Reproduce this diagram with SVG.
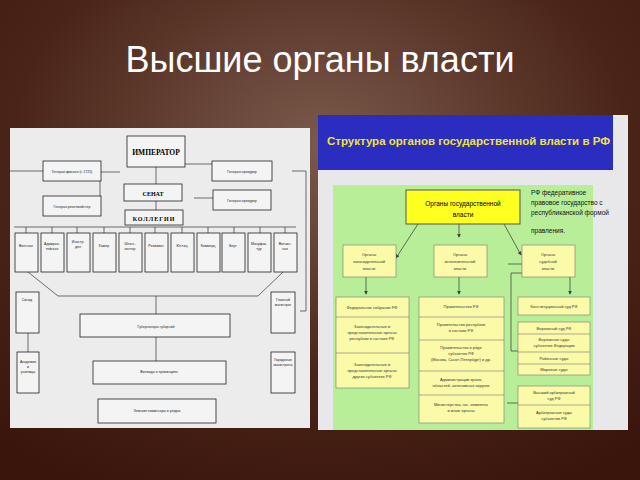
<svg xmlns="http://www.w3.org/2000/svg" width="640" height="480" viewBox="0 0 640 480">
<defs>
<radialGradient id="bg" cx="0.5" cy="0.3" r="0.8"><stop offset="0" stop-color="#7a5a4c"/><stop offset="0.6" stop-color="#4a2418"/><stop offset="1" stop-color="#3a150c"/></radialGradient>
<marker id="ah" markerWidth="6" markerHeight="6" refX="5" refY="3" orient="auto"><path d="M0,0L6,3L0,6z" fill="#444"/></marker>
<style>
.b{fill:#f4f4f4;stroke:#222;stroke-width:0.8}
.t{font-family:"Liberation Sans Narrow","Liberation Sans",sans-serif;font-size:3.5px;fill:#222;text-anchor:middle}
.y{fill:#fafaa8;stroke:#777;stroke-width:0.6}
.s{font-family:"Liberation Sans",sans-serif;font-size:4px;fill:#333;text-anchor:middle}
.l{stroke:#333;stroke-width:0.7;fill:none}
</style>
</defs>
<rect width="640" height="480" fill="url(#bg)"/>
<text x="320" y="72" font-family="Liberation Sans,sans-serif" font-size="36" fill="#fff" text-anchor="middle">Высшие органы власти</text>
<g id="left">
<rect x="10" y="128" width="300" height="300" fill="#ececec"/>
<g class="l">
<path d="M156,167V184M156,199V210M185,164H215M72,164H44M100,172H120M100,180V208M10,171H44M292,171H306V311H300M194,198H213M14,227H296M26,227V233M52,227V233M77,227V233M104,227V233M130,227V233M155,227V233M182,227V233M208,227V233M234,227V233M260,227V233M285,227V233M28,272L58,296H258L283,272M156,296V314M156,337V361M28,333V352"/>
</g>
<g id="imp"><rect class="b" x="127" y="136" width="58" height="31" stroke-width="1.5"/><text x="156" y="155" font-family="Liberation Serif,serif" font-size="7.5" font-weight="bold" text-anchor="middle">ИМПЕРАТОР</text></g>
<g id="gf"><rect class="b" x="43" y="161" width="58" height="20"/><text class="t" x="72" y="173">Генерал-фискал (с 1725)</text></g>
<g id="gp1"><rect class="b" x="212" y="161" width="60" height="20"/><text class="t" x="242" y="173">Генерал-прокурор</text></g>
<g id="senat"><rect class="b" x="124" y="184" width="58" height="17" stroke-width="1.3"/><text x="153" y="196" font-family="Liberation Serif,serif" font-size="6" font-weight="bold" text-anchor="middle">СЕНАТ</text></g>
<g id="gr"><rect class="b" x="43" y="196" width="58" height="20"/><text class="t" x="72" y="208">Генерал-рекетмейстер</text></g>
<g id="gp2"><rect class="b" x="213" y="190" width="58" height="20"/><text class="t" x="242" y="202">Генерал-прокурор</text></g>
<g id="koll"><rect class="b" x="125" y="210" width="58" height="15"/><text x="154" y="221" font-family="Liberation Serif,serif" font-size="6" font-weight="bold" text-anchor="middle" letter-spacing="1">КОЛЛЕГИИ</text></g>
<g id="c1"><rect class="b" x="15" y="233" width="23" height="39"/><text class="t" x="26" y="247">Военная</text></g>
<g id="c2"><rect class="b" x="41" y="233" width="23" height="39"/><text class="t" x="52" y="245">Адмирал-</text><text class="t" x="52" y="250">тейская</text></g>
<g id="c3"><rect class="b" x="67" y="233" width="23" height="39"/><text class="t" x="78" y="243">Иностр.</text><text class="t" x="78" y="248">дел</text></g>
<g id="c4"><rect class="b" x="93" y="233" width="23" height="39"/><text class="t" x="104" y="247">Камер</text></g>
<g id="c5"><rect class="b" x="119" y="233" width="23" height="39"/><text class="t" x="130" y="245">Штатс-</text><text class="t" x="130" y="250">контор</text></g>
<g id="c6"><rect class="b" x="145" y="233" width="23" height="39"/><text class="t" x="156" y="247">Ревизион</text></g>
<g id="c7"><rect class="b" x="171" y="233" width="23" height="39"/><text class="t" x="182" y="247">Юстиц</text></g>
<g id="c8"><rect class="b" x="197" y="233" width="23" height="39"/><text class="t" x="208" y="247">Коммерц</text></g>
<g id="c9"><rect class="b" x="222" y="233" width="23" height="39"/><text class="t" x="233" y="247">Берг</text></g>
<g id="c10"><rect class="b" x="248" y="233" width="23" height="39"/><text class="t" x="259" y="245">Мануфак-</text><text class="t" x="259" y="250">тур</text></g>
<g id="c11"><rect class="b" x="274" y="233" width="23" height="39"/><text class="t" x="285" y="245">Вотчин-</text><text class="t" x="285" y="250">ная</text></g>
<g id="sinod"><rect class="b" x="16" y="292" width="23" height="41"/><text class="t" x="27" y="301">Синод</text></g>
<g id="mag"><rect class="b" x="271" y="292" width="24" height="41"/><text class="t" x="283" y="301">Главный</text><text class="t" x="283" y="306">магистрат</text></g>
<g id="gub"><rect class="b" x="80" y="314" width="150" height="23"/><text class="t" x="156" y="328">Губернаторы губерний</text></g>
<g id="ak"><rect class="b" x="17" y="352" width="22" height="41"/><text class="t" x="28" y="363">Академия</text><text class="t" x="28" y="368">и</text><text class="t" x="28" y="373">училища</text></g>
<g id="gm"><rect class="b" x="271" y="352" width="24" height="41"/><text class="t" x="283" y="361">Городовые</text><text class="t" x="283" y="366">магистраты</text></g>
<g id="voev"><rect class="b" x="93" y="361" width="133" height="23"/><text class="t" x="159" y="373">Воеводы в провинциях</text></g>
<g id="zem"><rect class="b" x="98" y="399" width="118" height="24"/><text class="t" x="157" y="412">Земские комиссары в уездах</text></g>
</g>
<g id="right">
<rect x="318" y="115" width="310" height="315" fill="#e8e8ea"/>
<rect x="318" y="115" width="295" height="55" fill="#2a2dbf"/>
<text x="327" y="145" font-family="Liberation Sans Narrow,Liberation Sans,sans-serif" font-size="11.5" font-weight="bold" fill="#f2e23a">Структура органов государственной власти в РФ</text>
<rect x="333" y="185" width="260" height="245" fill="#b8ee98"/>
<text font-family="Liberation Sans Narrow,Liberation Sans,sans-serif" font-size="6.5" fill="#111"><tspan x="531" y="195">РФ федеративное</tspan><tspan x="531" y="205">правовое государство с</tspan><tspan x="531" y="215">республиканской формой</tspan><tspan x="531" y="233">правления.</tspan></text>
<g class="l" stroke="#555">
<path d="M418,224L396,258" marker-end="url(#ah)"/><path d="M459,224V237" marker-end="url(#ah)"/><path d="M504,224L521,255" marker-end="url(#ah)"/>
<path d="M366,277V294" marker-end="url(#ah)"/><path d="M459,277V294" marker-end="url(#ah)"/><path d="M570,277V294" marker-end="url(#ah)"/>
<path d="M522,273H511V351H518M507,403H518M508,264H522"/>
</g>
<g id="top"><rect x="406" y="190" width="114" height="34" fill="#ffff20" stroke="#555" stroke-width="1"/><text x="463" y="206" font-family="Liberation Sans Narrow,Liberation Sans,sans-serif" font-size="6.5" text-anchor="middle">Органы государственной</text><text x="463" y="217" font-family="Liberation Sans Narrow,Liberation Sans,sans-serif" font-size="6.5" text-anchor="middle">власти</text></g>
<g id="leg"><rect class="y" x="343" y="245" width="53" height="32"/><text class="s" x="369" y="256">Органы</text><text class="s" x="369" y="263">законодательной</text><text class="s" x="369" y="270">власти</text></g>
<g id="exe"><rect class="y" x="434" y="245" width="53" height="32"/><text class="s" x="460" y="256">Органы</text><text class="s" x="460" y="263">исполнительной</text><text class="s" x="460" y="270">власти</text></g>
<g id="jud"><rect class="y" x="522" y="245" width="53" height="32"/><text class="s" x="548" y="256">Органы</text><text class="s" x="548" y="263">судебной</text><text class="s" x="548" y="270">власти</text></g>
<g id="lcol"><rect class="y" x="336" y="297" width="73" height="91"/><path d="M336,317H409M336,353H409" stroke="#777" stroke-width="0.6"/>
<text class="s" x="372" y="309">Федеральное собрание РФ</text>
<text class="s" x="372" y="328">Законодательные и</text><text class="s" x="372" y="334">представительные органы</text><text class="s" x="372" y="340">республик в составе РФ</text>
<text class="s" x="372" y="366">Законодательные и</text><text class="s" x="372" y="372">представительные органы</text><text class="s" x="372" y="378">других субъектов РФ</text></g>
<g id="mcol"><rect class="y" x="419" y="297" width="85" height="126"/><path d="M419,317H504M419,340H504M419,371H504M419,395H504" stroke="#777" stroke-width="0.6"/>
<text class="s" x="461" y="308">Правительство РФ</text>
<text class="s" x="461" y="326">Правительства республик</text><text class="s" x="461" y="332">в составе РФ</text>
<text class="s" x="461" y="349">Правительства в ряде</text><text class="s" x="461" y="355">субъектов РФ</text><text class="s" x="461" y="361">(Москва, Санкт-Петербург) и др.</text>
<text class="s" x="461" y="381">Администрации краев,</text><text class="s" x="461" y="387">областей, автономных округов</text>
<text class="s" x="461" y="406">Министерства, гос. комитеты</text><text class="s" x="461" y="412">и иные органы</text></g>
<g id="r1"><rect class="y" x="518" y="297" width="72" height="18"/><text class="s" x="554" y="308">Конституционный суд РФ</text></g>
<g id="r2"><rect class="y" x="518" y="322" width="72" height="53" stroke="#444"/><path d="M518,334H590M518,352H590M518,364H590" stroke="#777" stroke-width="0.6"/>
<text class="s" x="554" y="330">Верховный суд РФ</text><text class="s" x="554" y="341">Верховные суды</text><text class="s" x="554" y="347">субъектов Федерации</text><text class="s" x="554" y="360">Районные суды</text><text class="s" x="554" y="371">Мировые суды</text></g>
<g id="r3"><rect class="y" x="518" y="386" width="72" height="42"/><path d="M518,405H590" stroke="#777" stroke-width="0.6"/>
<text class="s" x="554" y="394">Высший арбитражный</text><text class="s" x="554" y="400">суд РФ</text><text class="s" x="554" y="414">Арбитражные суды</text><text class="s" x="554" y="420">субъектов РФ</text></g>
</g>
</svg>
